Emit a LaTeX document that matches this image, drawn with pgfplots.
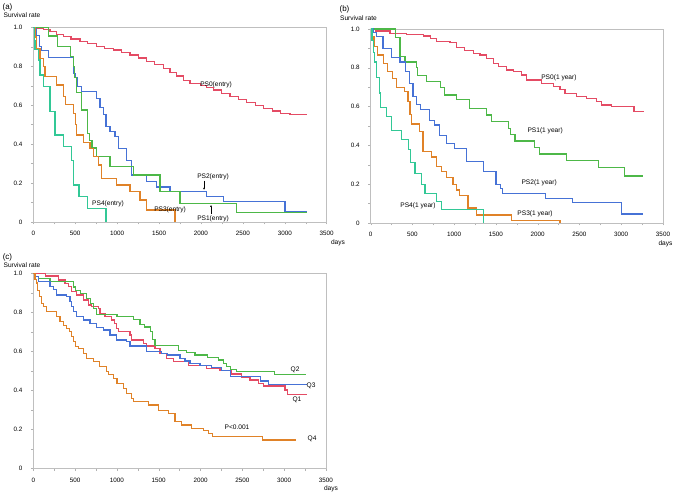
\documentclass[border=0pt]{standalone}
\usepackage{pgfplots}
\pgfplotsset{compat=1.18}
\usetikzlibrary{arrows.meta}
\usepackage{fontspec}
\setmainfont{Liberation Sans}
\definecolor{cred}{RGB}{228,75,100}
\definecolor{cgreen}{RGB}{77,184,72}
\definecolor{cblue}{RGB}{70,114,214}
\definecolor{corange}{RGB}{224,130,40}
\definecolor{cteal}{RGB}{50,200,150}
\tikzset{lab/.style={font=\fontsize{6.6}{7}\selectfont, inner sep=0pt}}
\pgfplotsset{
 panel/.style={scale only axis, anchor=south west, clip=false,
  xmin=0,xmax=3500,ymin=0,ymax=1,
  axis line style={draw=gray!50, line width=0.5pt},
  xtick={0,500,1000,1500,2000,2500,3000,3500},
  xticklabels={0,500,1000,1500,2000,2500,3000,3500},
  ytick={0,0.2,0.4,0.6,0.8,1},
  yticklabels={0,0.2,0.4,0.6,0.8,1.0},
  minor xtick={250,750,1250,1750,2250,2750,3250},
  minor ytick={0.1,0.3,0.5,0.7,0.9},
  tick align=outside, major tick length=2.5pt, minor tick length=2.5pt,
  tick style={draw=gray!60, line width=0.4pt},
  xtick pos=bottom, ytick pos=left,
  ticklabel style={font=\fontsize{6.3}{7}\selectfont},
  yticklabel style={xshift=-5pt},
  xticklabel style={yshift=-3.5pt},
  every axis plot/.append style={const plot, mark=none, line width=1.15pt},
 },
}
\begin{document}
\begin{tikzpicture}[x=1pt,y=1pt]
\path[use as bounding box] (0,0) rectangle (677,495);
% outside texts
\node[font=\fontsize{8}{9}\selectfont, inner sep=0pt] at (7.5,488) {(a)};
\node[lab] at (22,479.5) {Survival rate};
\node[lab] at (338,252.5) {days};
\node[font=\fontsize{8}{9}\selectfont, inner sep=0pt] at (344.5,486) {(b)};
\node[lab] at (358.5,477) {Survival rate};
\node[lab] at (665.5,251.7) {days};
\node[font=\fontsize{8}{9}\selectfont, inner sep=0pt] at (7.5,238) {(c)};
\node[lab] at (22,230) {Survival rate};
\node[lab] at (331,6.3) {days};

% ---------------- (a)
\begin{axis}[panel, at={(33.3pt,273pt)}, width=293.4pt, height=194.7pt]
\addplot[color=cred] coordinates {(0,1) (40,0.995) (120,0.988) (200,0.978) (280,0.965) (358,0.952) (450,0.94) (557,0.926) (650,0.915) (757,0.90) (850,0.892) (955,0.883) (1050,0.872) (1154,0.858) (1250,0.842) (1353,0.823) (1450,0.808) (1551,0.79) (1630,0.77) (1711,0.75) (1790,0.728) (1870,0.712) (1990,0.70) (2070,0.69) (2148,0.678) (2250,0.662) (2347,0.644) (2450,0.628) (2546,0.612) (2650,0.598) (2745,0.584) (2850,0.57) (2944,0.558) (3063,0.55) (3270,0.55)};
\addplot[color=cblue] coordinates {(0,1) (40,0.96) (72,0.90) (100,0.88) (180,0.846) (477,0.764) (497,0.743) (525,0.695) (577,0.67) (756,0.635) (795,0.59) (835,0.55) (867,0.49) (915,0.464) (974,0.438) (1014,0.378) (1114,0.318) (1173,0.241) (1352,0.207) (1471,0.18) (1630,0.156) (2068,0.13) (2267,0.104) (3003,0.056) (3261,0.056)};
\addplot[color=cgreen] coordinates {(0,1) (180,0.955) (290,0.90) (445,0.85) (475,0.80) (490,0.74) (517,0.665) (577,0.575) (644,0.455) (668,0.42) (700,0.38) (756,0.336) (915,0.284) (1193,0.241) (1511,0.156) (1750,0.096) (2426,0.05) (3261,0.05)};
\addplot[color=corange] coordinates {(0,1) (20,0.95) (40,0.89) (80,0.84) (119,0.80) (139,0.746) (278,0.704) (358,0.645) (380,0.605) (477,0.558) (500,0.50) (517,0.447) (600,0.41) (676,0.379) (716,0.335) (776,0.293) (815,0.224) (994,0.19) (1153,0.156) (1272,0.113) (1352,0.062) (1690,0) (1690,0)};
\addplot[color=cteal] coordinates {(0,1) (10,0.93) (20,0.884) (60,0.832) (80,0.755) (119,0.695) (199,0.567) (258,0.447) (358,0.387) (455,0.318) (482,0.19) (545,0.13) (644,0.07) (867,0) (867,0)};
\node[lab] at (axis cs:2180,0.704) {PS0(entry)};
\node[lab] at (axis cs:2144,0.231) {PS2(entry)};
\node[lab] at (axis cs:2144,0.018) {PS1(entry)};
\node[lab] at (axis cs:891,0.093) {PS4(entry)};
\node[lab] at (axis cs:1631,0.062) {PS3(entry)};
\draw[-{Latex[length=2pt,width=2pt]}, line width=0.4pt] (axis cs:2037,0.212) -- (axis cs:2037,0.165);
\draw[-{Latex[length=2pt,width=2pt]}, line width=0.4pt] (axis cs:2120,0.04) -- (axis cs:2120,0.088);
\end{axis}

% ---------------- (b)
\begin{axis}[panel, at={(370.7pt,272pt)}, width=292.3pt, height=194pt]
\addplot[color=cred] coordinates {(0,1) (60,0.99) (231,0.978) (430,0.972) (630,0.964) (720,0.95) (789,0.937) (949,0.93) (1028,0.905) (1128,0.888) (1228,0.875) (1308,0.866) (1388,0.849) (1468,0.823) (1528,0.806) (1628,0.789) (1707,0.78) (1807,0.763) (1867,0.737) (2047,0.72) (2186,0.703) (2266,0.686) (2326,0.668) (2466,0.651) (2586,0.643) (2705,0.625) (2765,0.608) (2885,0.60) (3152,0.574) (3275,0.574)};
\addplot[color=cgreen] coordinates {(0,1) (300,0.955) (350,0.86) (410,0.83) (546,0.80) (560,0.76) (666,0.73) (840,0.70) (885,0.66) (1025,0.635) (1185,0.59) (1388,0.557) (1448,0.522) (1647,0.488) (1676,0.454) (1727,0.423) (1958,0.388) (2018,0.356) (2346,0.321) (2724,0.287) (3036,0.242) (3260,0.242)};
\addplot[color=cblue] coordinates {(0,1) (30,0.98) (67,0.96) (147,0.90) (250,0.855) (350,0.83) (420,0.78) (460,0.72) (506,0.65) (546,0.61) (600,0.585) (706,0.53) (760,0.505) (826,0.45) (905,0.41) (1005,0.386) (1148,0.317) (1348,0.265) (1500,0.20) (1556,0.179) (1580,0.153) (2094,0.127) (2418,0.105) (3004,0.046) (3265,0.046)};
\addplot[color=corange] coordinates {(0,1) (20,0.96) (40,0.91) (80,0.866) (150,0.82) (206,0.78) (266,0.745) (306,0.70) (406,0.68) (446,0.625) (470,0.56) (490,0.51) (586,0.47) (626,0.37) (726,0.34) (786,0.29) (846,0.265) (905,0.235) (985,0.20) (1030,0.17) (1065,0.14) (1165,0.077) (1268,0.041) (1687,0.015) (2266,0) (2266,0)};
\addplot[color=cteal] coordinates {(0,1) (15,0.94) (30,0.88) (50,0.83) (72,0.75) (104,0.67) (115,0.595) (191,0.55) (250,0.475) (370,0.43) (450,0.38) (478,0.31) (530,0.257) (610,0.197) (650,0.154) (790,0.11) (850,0.069) (1355,0) (1355,0)};
\node[lab] at (axis cs:2254,0.747) {PS0(1 year)};
\node[lab] at (axis cs:2089,0.474) {PS1(1 year)};
\node[lab] at (axis cs:2017,0.206) {PS2(1 year)};
\node[lab] at (axis cs:1968,0.046) {PS3(1 year)};
\node[lab] at (axis cs:566,0.088) {PS4(1 year)};
\end{axis}

% ---------------- (c)
\begin{axis}[panel, at={(33.3pt,26.3pt)}, width=292.7pt, height=195.4pt]
\addplot[color=cred] coordinates {(0,1) (150,0.986) (299,0.966) (379,0.949) (420,0.932) (458,0.906) (518,0.889) (598,0.863) (658,0.838) (700,0.829) (777,0.82) (797,0.795) (857,0.778) (937,0.761) (970,0.744) (997,0.718) (1017,0.70) (1156,0.684) (1176,0.659) (1315,0.642) (1355,0.628) (1455,0.616) (1515,0.59) (1594,0.565) (1674,0.548) (1854,0.527) (2074,0.514) (2233,0.502) (2373,0.485) (2492,0.468) (2592,0.454) (2691,0.437) (2751,0.423) (3010,0.403) (3042,0.381) (3277,0.381)};
\addplot[color=cgreen] coordinates {(0,1) (20,0.983) (60,0.974) (199,0.957) (478,0.93) (500,0.914) (560,0.897) (638,0.872) (680,0.846) (718,0.82) (760,0.79) (1000,0.78) (1196,0.765) (1275,0.74) (1330,0.725) (1400,0.70) (1430,0.66) (1455,0.63) (1734,0.607) (1835,0.596) (1934,0.582) (2081,0.57) (2213,0.556) (2273,0.539) (2313,0.522) (2353,0.509) (2433,0.496) (2883,0.48) (3262,0.48)};
\addplot[color=cblue] coordinates {(0,1) (20,0.983) (60,0.957) (199,0.932) (240,0.915) (279,0.889) (399,0.88) (438,0.855) (460,0.829) (478,0.804) (518,0.778) (598,0.761) (678,0.744) (757,0.724) (837,0.71) (917,0.684) (997,0.659) (1116,0.65) (1156,0.628) (1355,0.60) (1535,0.59) (1600,0.582) (1755,0.565) (1814,0.551) (1874,0.539) (1994,0.526) (2134,0.519) (2253,0.502) (2353,0.474) (2720,0.449) (2811,0.432) (3270,0.432)};
\addplot[color=corange] coordinates {(0,1) (20,0.97) (40,0.95) (50,0.91) (70,0.88) (100,0.846) (120,0.83) (160,0.804) (279,0.778) (320,0.752) (359,0.735) (399,0.718) (430,0.70) (460,0.676) (478,0.65) (500,0.625) (540,0.616) (600,0.59) (640,0.565) (717,0.548) (790,0.522) (877,0.497) (900,0.48) (957,0.462) (1000,0.437) (1076,0.411) (1116,0.386) (1176,0.36) (1200,0.343) (1375,0.326) (1495,0.30) (1614,0.283) (1695,0.241) (1775,0.224) (1894,0.207) (2033,0.195) (2093,0.178) (2145,0.164) (2744,0.147) (3142,0.147)};
\node[lab] at (axis cs:3130,0.505) {Q2};
\node[lab] at (axis cs:3321,0.423) {Q3};
\node[lab] at (axis cs:3153,0.352) {Q1};
\node[lab] at (axis cs:2436,0.213) {P<0.001};
\node[lab] at (axis cs:3333,0.152) {Q4};
\end{axis}
\end{tikzpicture}
\end{document}
